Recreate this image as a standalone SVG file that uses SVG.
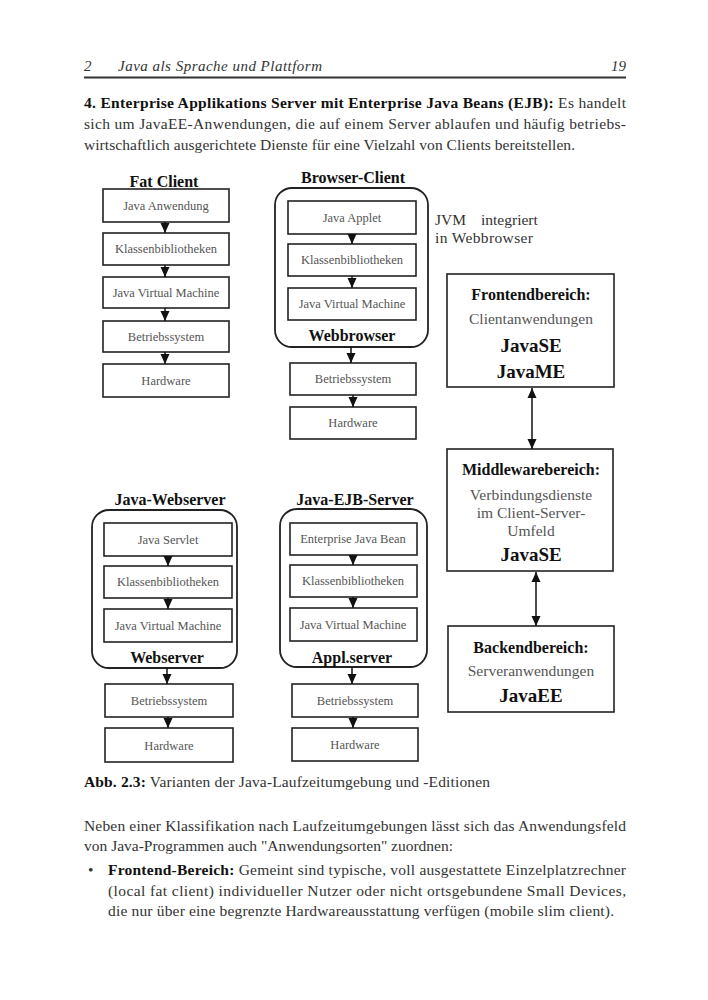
<svg xmlns="http://www.w3.org/2000/svg" width="708" height="1000" viewBox="0 0 708 1000">
<defs>
<style>
.bg{fill:#fff}
.box{fill:#fff;stroke:#222;stroke-width:1.6}
.cont{fill:none;stroke:#222;stroke-width:1.8}
.bt{font-family:"Liberation Serif",serif;font-size:12.5px;fill:#555;text-anchor:middle}
.tt{font-family:"Liberation Serif",serif;font-size:16px;font-weight:bold;fill:#111;text-anchor:middle}
.rb{font-family:"Liberation Serif",serif;font-size:16px;font-weight:bold;fill:#111;text-anchor:middle}
.rn{font-family:"Liberation Serif",serif;font-size:15.5px;fill:#555;text-anchor:middle}
.rj{font-family:"Liberation Serif",serif;font-size:19px;font-weight:bold;fill:#111;text-anchor:middle}
.body{font-family:"Liberation Serif",serif;font-size:15.5px;fill:#333}
.bold{font-weight:bold;fill:#111}
.hdr{font-family:"Liberation Serif",serif;font-size:15px;font-style:italic;fill:#333}
.con{stroke:#111;stroke-width:1.5;fill:none}
</style>
<marker id="tri" markerUnits="userSpaceOnUse" markerWidth="10" markerHeight="10" viewBox="0 0 10 10" refX="10" refY="5" orient="auto-start-reverse">
<path d="M0,0.5 L10,5 L0,9.5 z" fill="#111"/>
</marker>
</defs>
<rect class="bg" x="0" y="0" width="708" height="1000"/>

<g id="header">
<text class="hdr" x="84" y="71">2</text>
<text class="hdr" x="118" y="71" textLength="204">Java als Sprache und Plattform</text>
<text class="hdr" x="626" y="71" text-anchor="end">19</text>
<line x1="84" y1="77.5" x2="626" y2="77.5" stroke="#333" stroke-width="2"/>
</g>

<g id="intro">
<text class="body" x="84" y="108" textLength="542" lengthAdjust="spacing"><tspan class="bold">4. Enterprise Applikations Server mit Enterprise Java Beans (EJB):</tspan> Es handelt</text>
<text class="body" x="84" y="129" textLength="542" lengthAdjust="spacing">sich um JavaEE-Anwendungen, die auf einem Server ablaufen und häufig betriebs-</text>
<text class="body" x="84" y="150" textLength="491" lengthAdjust="spacing">wirtschaftlich ausgerichtete Dienste für eine Vielzahl von Clients bereitstellen.</text>
</g>

<!-- Fat Client -->
<g id="fat-client">
<text class="tt" x="164" y="187">Fat Client</text>
<rect class="box" x="103" y="189" width="126" height="33"/>
<text class="bt" x="166" y="210">Java Anwendung</text>
<rect class="box" x="103" y="233" width="126" height="32"/>
<text class="bt" x="166" y="253">Klassenbibliotheken</text>
<rect class="box" x="103" y="277" width="126" height="31"/>
<text class="bt" x="166" y="297">Java Virtual Machine</text>
<rect class="box" x="103" y="321" width="126" height="31"/>
<text class="bt" x="166" y="341">Betriebssystem</text>
<rect class="box" x="103" y="364" width="126" height="33"/>
<text class="bt" x="166" y="385">Hardware</text>
</g>

<!-- Browser Client -->
<g id="browser-client">
<text class="tt" x="353" y="183">Browser-Client</text>
<rect class="cont" x="275" y="188" width="153" height="159" rx="17"/>
<rect class="box" x="288" y="201" width="128" height="33"/>
<text class="bt" x="352" y="222">Java Applet</text>
<rect class="box" x="288" y="244" width="128" height="32"/>
<text class="bt" x="352" y="264">Klassenbibliotheken</text>
<rect class="box" x="288" y="288" width="128" height="32"/>
<text class="bt" x="352" y="308">Java Virtual Machine</text>
<text class="tt" x="352" y="341">Webbrowser</text>
<rect class="box" x="290" y="363" width="126" height="32"/>
<text class="bt" x="353" y="383">Betriebssystem</text>
<rect class="box" x="290" y="407" width="126" height="32"/>
<text class="bt" x="353" y="427">Hardware</text>
</g>

<g id="jvm-note">
<text class="body" x="435" y="225" font-size="16">JVM</text>
<text class="body" x="481" y="225" font-size="16">integriert</text>
<text class="body" x="435" y="243" font-size="16" textLength="98">in Webbrowser</text>
</g>

<!-- Right column -->
<g id="frontend">
<rect class="box" x="447" y="274" width="167" height="113"/>
<text class="rb" x="531" y="300">Frontendbereich:</text>
<text class="rn" x="531" y="324">Clientanwendungen</text>
<text class="rj" x="531" y="352">JavaSE</text>
<text class="rj" x="531" y="378">JavaME</text>
</g>
<g id="middleware">
<rect class="box" x="447" y="449" width="166" height="122"/>
<text class="rb" x="531" y="475">Middlewarebereich:</text>
<text class="rn" x="531" y="500">Verbindungsdienste</text>
<text class="rn" x="531" y="518">im Client-Server-</text>
<text class="rn" x="531" y="536">Umfeld</text>
<text class="rj" x="531" y="561">JavaSE</text>
</g>
<g id="backend">
<rect class="box" x="448" y="626" width="166" height="86"/>
<text class="rb" x="531" y="653">Backendbereich:</text>
<text class="rn" x="531" y="676">Serveranwendungen</text>
<text class="rj" x="531" y="702">JavaEE</text>
</g>

<!-- Java-Webserver -->
<g id="java-webserver">
<text class="tt" x="170" y="505">Java-Webserver</text>
<rect class="cont" x="92" y="510" width="145" height="158" rx="17"/>
<rect class="box" x="104" y="523" width="128" height="33"/>
<text class="bt" x="168" y="544">Java Servlet</text>
<rect class="box" x="104" y="566" width="128" height="32"/>
<text class="bt" x="168" y="586">Klassenbibliotheken</text>
<rect class="box" x="104" y="609" width="128" height="33"/>
<text class="bt" x="168" y="630">Java Virtual Machine</text>
<text class="tt" x="167" y="663">Webserver</text>
<rect class="box" x="105" y="684" width="128" height="33"/>
<text class="bt" x="169" y="705">Betriebssystem</text>
<rect class="box" x="105" y="728" width="128" height="34"/>
<text class="bt" x="169" y="750">Hardware</text>
</g>

<!-- Java-EJB-Server -->
<g id="java-ejb-server">
<text class="tt" x="355" y="505">Java-EJB-Server</text>
<rect class="cont" x="280" y="509" width="147" height="158" rx="17"/>
<rect class="box" x="290" y="523" width="127" height="32"/>
<text class="bt" x="353" y="543">Enterprise Java Bean</text>
<rect class="box" x="290" y="565" width="127" height="32"/>
<text class="bt" x="353" y="585">Klassenbibliotheken</text>
<rect class="box" x="290" y="608" width="127" height="33"/>
<text class="bt" x="353" y="629">Java Virtual Machine</text>
<text class="tt" x="352" y="663">Appl.server</text>
<rect class="box" x="292" y="684" width="126" height="33"/>
<text class="bt" x="355" y="705">Betriebssystem</text>
<rect class="box" x="292" y="728" width="126" height="33"/>
<text class="bt" x="355" y="749">Hardware</text>
</g>

<g id="connectors">
<!-- fat client -->
<line class="con" x1="165" y1="222" x2="165" y2="233" marker-end="url(#tri)"/>
<line class="con" x1="165" y1="265" x2="165" y2="277" marker-end="url(#tri)"/>
<line class="con" x1="165" y1="308" x2="165" y2="321" marker-end="url(#tri)"/>
<line class="con" x1="165" y1="352" x2="165" y2="364" marker-end="url(#tri)"/>
<!-- browser -->
<line class="con" x1="352" y1="234" x2="352" y2="244" marker-end="url(#tri)"/>
<line class="con" x1="352" y1="276" x2="352" y2="288" marker-end="url(#tri)"/>
<line class="con" x1="351" y1="347" x2="351" y2="363" marker-end="url(#tri)"/>
<line class="con" x1="353" y1="395" x2="353" y2="407" marker-end="url(#tri)"/>
<!-- webserver -->
<line class="con" x1="168" y1="556" x2="168" y2="566" marker-end="url(#tri)"/>
<line class="con" x1="168" y1="598" x2="168" y2="609" marker-end="url(#tri)"/>
<line class="con" x1="167" y1="668" x2="167" y2="684" marker-end="url(#tri)"/>
<line class="con" x1="168" y1="717" x2="168" y2="728" marker-end="url(#tri)"/>
<!-- ejb -->
<line class="con" x1="353" y1="555" x2="353" y2="565" marker-end="url(#tri)"/>
<line class="con" x1="353" y1="597" x2="353" y2="608" marker-end="url(#tri)"/>
<line class="con" x1="352" y1="667" x2="352" y2="684" marker-end="url(#tri)"/>
<line class="con" x1="353" y1="717" x2="353" y2="728" marker-end="url(#tri)"/>
<!-- right column double arrows -->
<line class="con" x1="532" y1="388" x2="532" y2="449" marker-start="url(#tri)" marker-end="url(#tri)"/>
<line class="con" x1="536" y1="572" x2="536" y2="626" marker-start="url(#tri)" marker-end="url(#tri)"/>
</g>

<g id="caption">
<text class="body" x="84" y="787" textLength="406" lengthAdjust="spacing"><tspan class="bold">Abb. 2.3:</tspan> Varianten der Java-Laufzeitumgebung und -Editionen</text>
</g>

<g id="outro">
<text class="body" x="84" y="831" textLength="542" lengthAdjust="spacing">Neben einer Klassifikation nach Laufzeitumgebungen lässt sich das Anwendungsfeld</text>
<text class="body" x="84" y="851">von Java-Programmen auch "Anwendungsorten" zuordnen:</text>
<text class="body" x="88" y="875" font-size="18">•</text>
<text class="body" x="108" y="875" textLength="518" lengthAdjust="spacing"><tspan class="bold">Frontend-Bereich:</tspan> Gemeint sind typische, voll ausgestattete Einzelplatzrechner</text>
<text class="body" x="108" y="896" textLength="518" lengthAdjust="spacing">(local fat client) individueller Nutzer oder nicht ortsgebundene Small Devices,</text>
<text class="body" x="108" y="916" textLength="506" lengthAdjust="spacing">die nur über eine begrenzte Hardwareausstattung verfügen (mobile slim client).</text>
</g>
</svg>
